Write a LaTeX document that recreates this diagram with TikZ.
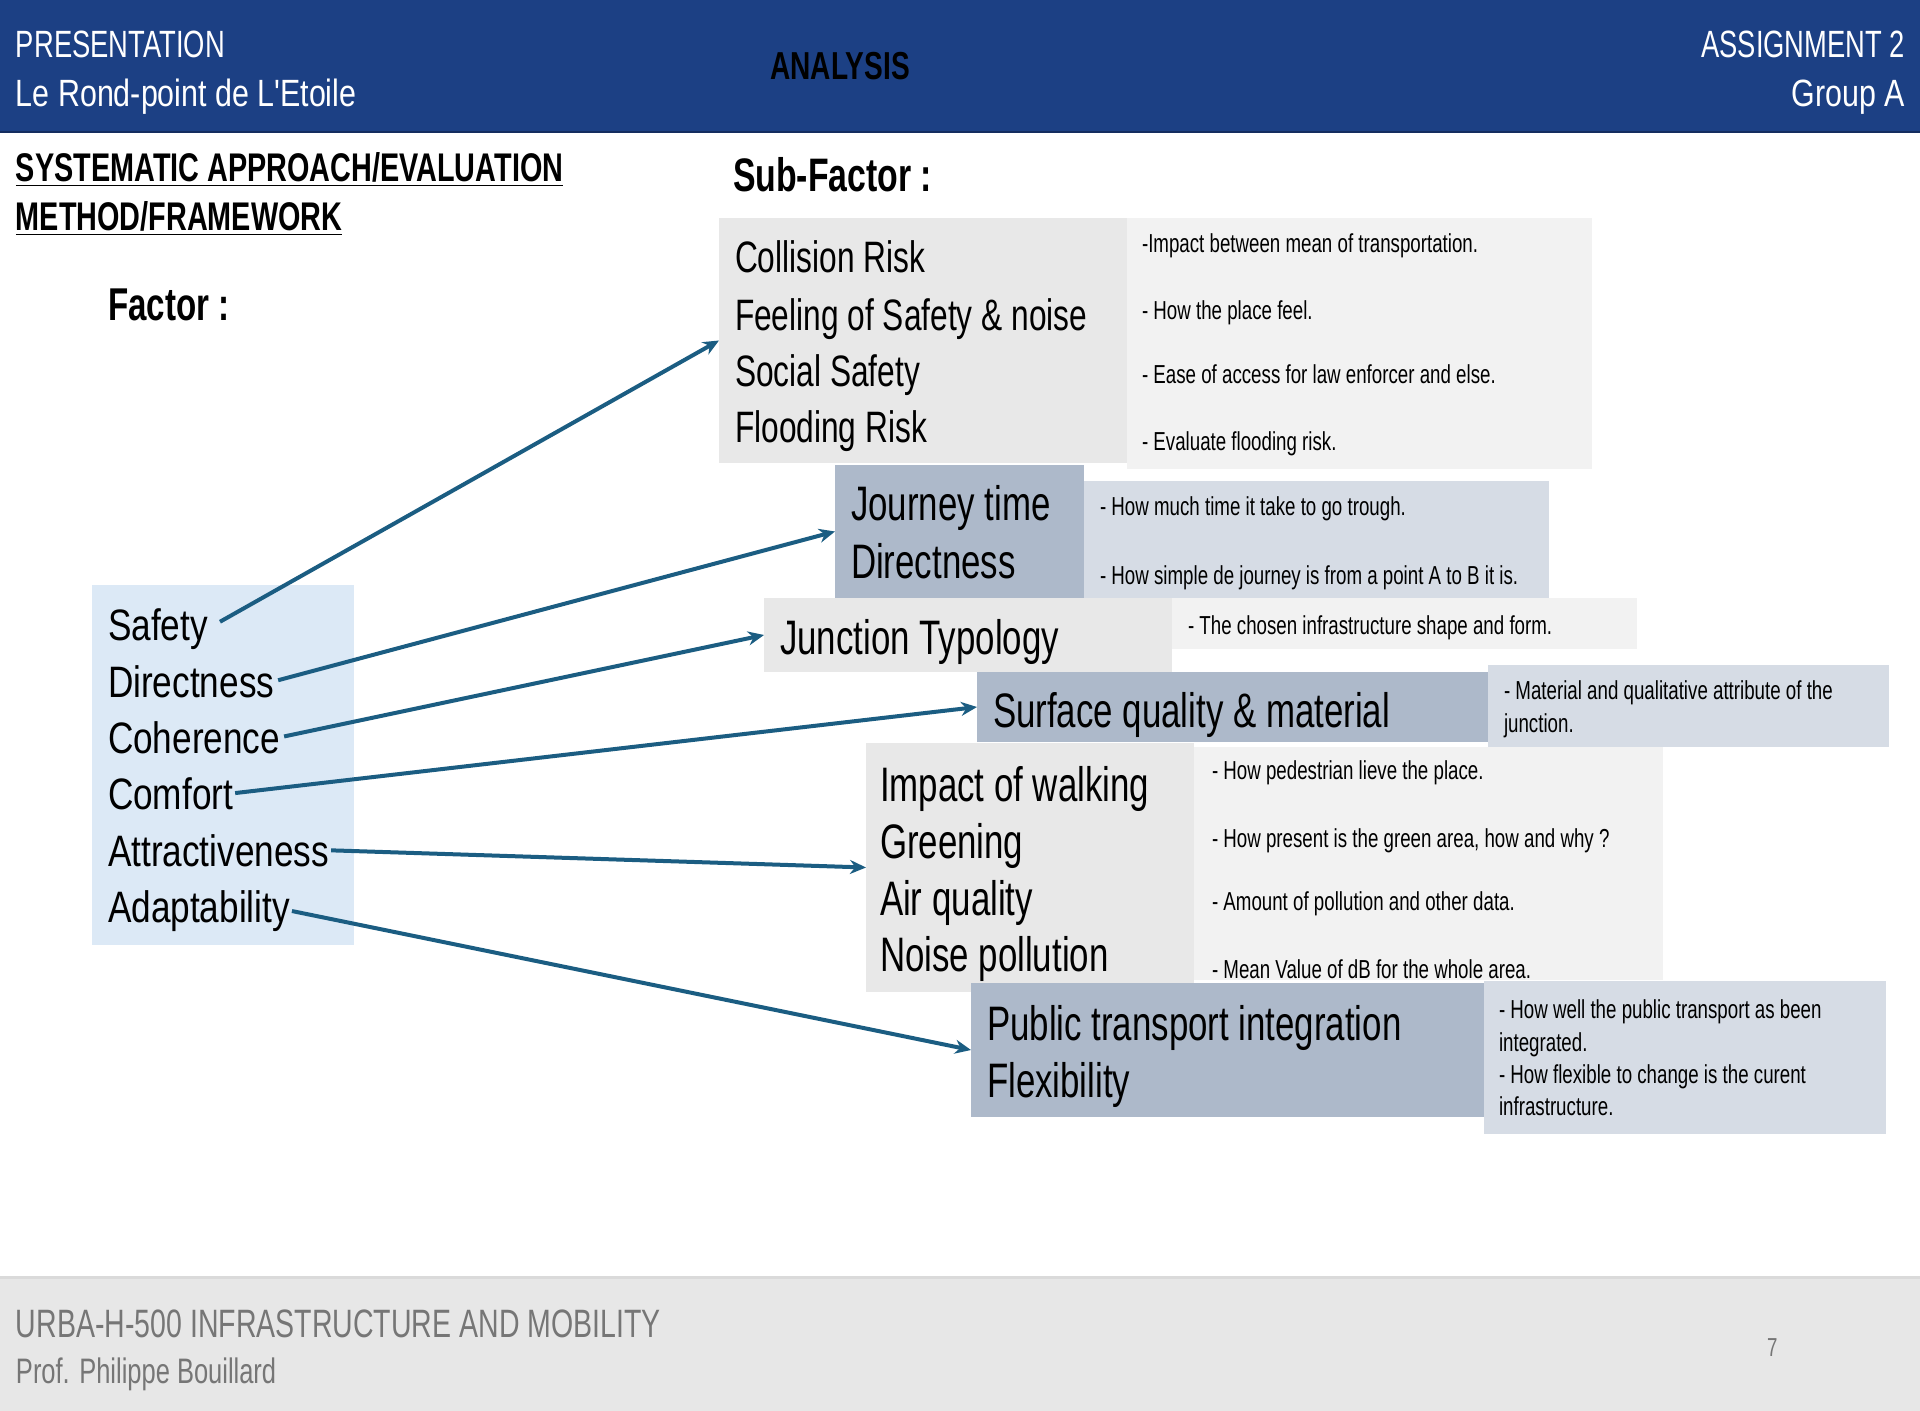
\documentclass[tikz,border=0pt]{standalone}
\usepackage{fontspec}
\setmainfont{Liberation Sans}[FakeStretch=0.72]
\newfontfamily\facfont{Liberation Sans}[FakeStretch=0.8]
\newfontfamily\midfont{Liberation Sans}[FakeStretch=0.8]
\usetikzlibrary{arrows.meta}
\definecolor{hdrblue}{RGB}{28,64,132}
\definecolor{hdrline}{RGB}{20,45,95}
\definecolor{facblue}{RGB}{220,233,246}
\definecolor{grayA}{RGB}{232,232,232}
\definecolor{grayB}{RGB}{242,242,242}
\definecolor{slateA}{RGB}{173,185,202}
\definecolor{slateB}{RGB}{214,220,229}
\definecolor{arrcol}{RGB}{27,93,130}
\definecolor{footbg}{RGB}{231,231,231}
\definecolor{footline}{RGB}{218,218,218}
\definecolor{foottxt}{RGB}{118,118,118}
\tikzset{
  box/.style={anchor=north west, inner sep=0, outer sep=0, draw=none},
  txt/.style={anchor=base west, inner sep=0, outer sep=0},
  hdrtxt/.style={txt, text=white, font=\fontsize{19}{22}\selectfont},
  headbold/.style={txt, font=\bfseries\fontsize{20}{24}\selectfont},
  sub/.style={txt, font=\fontsize{22}{26}\selectfont},
  subb/.style={txt, font=\fontsize{24.2}{28}\selectfont},
  desc/.style={txt, font=\fontsize{13}{15}\selectfont},
  fac/.style={txt, font=\facfont\fontsize{22}{26}\selectfont},
  foot/.style={txt, text=foottxt},
  arr/.style={draw=arrcol, line width=2pt, -{Stealth[length=8pt,width=7pt]}}
}
\begin{document}
\begin{tikzpicture}[x=0.5pt,y=-0.5pt]
\useasboundingbox (0,0) rectangle (1920,1411);
\fill[white] (0,0) rectangle (1920,1411);
% header
\node[box, fill=hdrblue, minimum width=960pt, minimum height=66pt] (hdr) at (0,0) {};
\draw[hdrline, line width=1pt] (hdr.south west) -- (hdr.south east);
\node[hdrtxt] (h1) at (16,58) {PRESENTATION};
\node[hdrtxt, font=\midfont\fontsize{19}{22}\selectfont] (h2) at (16,107) {Le Rond-point de L{\char39}Etoile};
\node[txt, anchor=base, font=\bfseries\fontsize{19.5}{23}\selectfont] (h3) at (840,80) {ANALYSIS};
\node[hdrtxt, anchor=base east] (h4) at (1905,58) {ASSIGNMENT 2};
\node[hdrtxt, anchor=base east, font=\midfont\fontsize{19}{22}\selectfont] (h5) at (1905,107) {Group A};
% footer
\node[box, fill=footbg, minimum width=960pt, minimum height=67pt] (ftr) at (0,1277) {};
\draw[footline, line width=1.5pt] (ftr.north west) -- (ftr.north east);
\node[foot, font=\fontsize{19.8}{23}\selectfont] (f1) at (16,1337) {URBA-H-500 INFRASTRUCTURE AND MOBILITY};
\node[foot, font=\fontsize{17.7}{21}\selectfont] (f2) at (16,1383) {Prof. Philippe Bouillard};
\node[txt, text=foottxt, font=\fontsize{13}{15}\selectfont] (f3) at (1767,1356) {7};
% headings
\node[headbold] (t1) at (16,182) {\underline{SYSTEMATIC APPROACH/EVALUATION}};
\node[headbold] (t2) at (16,231) {\underline{METHOD/FRAMEWORK}};
\node[txt, font=\bfseries\fontsize{23.5}{28}\selectfont] (t3) at (733,192) {Sub-Factor :};
\node[txt, font=\bfseries\fontsize{23}{28}\selectfont] (t4) at (108,321) {Factor :};
% factor box
\node[box, fill=facblue, minimum width=131pt, minimum height=180pt] (facbox) at (92,585) {};
\node[fac] (fSafety) at (108,640) {Safety};
\node[fac] (fDir) at (108,697) {Directness};
\node[fac] (fCoh) at (108,753) {Coherence};
\node[fac] (fCom) at (108,809) {Comfort};
\node[fac] (fAtt) at (108,866) {Attractiveness};
\node[fac] (fAda) at (108,922) {Adaptability};
% box 1
\node[box, fill=grayB, minimum width=232.5pt, minimum height=125.5pt] (b1d) at (1127,218) {};
\node[box, fill=grayA, minimum width=204pt, minimum height=122.5pt] (b1) at (719,218) {};
\node[sub] (s11) at (735,273) {Collision Risk};
\node[sub] (s12) at (735,331) {Feeling of Safety \& noise};
\node[sub] (s13) at (735,387) {Social Safety};
\node[sub] (s14) at (735,443) {Flooding Risk};
\node[desc] (d11) at (1142,253) {-Impact between mean of transportation.};
\node[desc] (d12) at (1142,320) {- How the place feel.};
\node[desc] (d13) at (1142,384) {- Ease of access for law enforcer and else.};
\node[desc] (d14) at (1142,451) {- Evaluate flooding risk.};
% box 2
\node[box, fill=slateB, minimum width=232.5pt, minimum height=58.5pt] (b2d) at (1084,481) {};
\node[box, fill=slateA, minimum width=124.5pt, minimum height=66.5pt] (b2) at (835,465) {};
\node[subb] (s21) at (851,520) {Journey time};
\node[subb] (s22) at (851,578) {Directness};
\node[desc] (d21) at (1100,516) {- How much time it take to go trough.};
\node[desc] (d22) at (1100,584) {- How simple de journey is from a point A to B it is.};
% box 3
\node[box, fill=grayB, minimum width=232.5pt, minimum height=25.5pt] (b3d) at (1172,598) {};
\node[box, fill=grayA, minimum width=204pt, minimum height=37pt] (b3) at (764,598) {};
\node[subb] (s31) at (780,654) {Junction Typology};
\node[desc] (d31) at (1188,634) {- The chosen infrastructure shape and form.};
% box 4
\node[box, fill=slateB, minimum width=200.5pt, minimum height=41pt] (b4d) at (1488,665) {};
\node[box, fill=slateA, minimum width=255.5pt, minimum height=35pt] (b4) at (977,672) {};
\node[subb] (s41) at (993,727) {Surface quality \& material};
\node[desc] (d41) at (1504,699) {- Material and qualitative attribute of the};
\node[desc] (d42) at (1504,732) {junction.};
% box 5
\node[box, fill=grayB, minimum width=234.5pt, minimum height=116.5pt] (b5d) at (1194,747) {};
\node[box, fill=grayA, minimum width=164pt, minimum height=124.5pt] (b5) at (866,743) {};
\node[subb] (s51) at (880,801) {Impact of walking};
\node[subb] (s52) at (880,858) {Greening};
\node[subb] (s53) at (880,915) {Air quality};
\node[subb] (s54) at (880,971) {Noise pollution};
\node[desc] (d51) at (1212,779) {- How pedestrian lieve the place.};
\node[desc] (d52) at (1212,847) {- How present is the green area, how and why ?};
\node[desc] (d53) at (1212,910) {- Amount of pollution and other data.};
\node[desc] (d54) at (1212,978) {- Mean Value of dB for the whole area.};
% box 6
\node[box, fill=slateB, minimum width=201pt, minimum height=76.5pt] (b6d) at (1484,981) {};
\node[box, fill=slateA, minimum width=256.5pt, minimum height=67pt] (b6) at (971,983) {};
\node[subb] (s61) at (987,1040) {Public transport integration};
\node[subb] (s62) at (987,1097) {Flexibility};
\node[desc] (d61) at (1499,1018) {- How well the public transport as been};
\node[desc] (d62) at (1499,1051) {integrated.};
\node[desc] (d63) at (1499,1083) {- How flexible to change is the curent};
\node[desc] (d64) at (1499,1115) {infrastructure.};
% arrows
\draw[arr, shorten <=7pt] (fSafety.east) -- (b1.west);
\draw[arr, shorten <=2pt] (fDir.east) -- (b2.west);
\draw[arr, shorten <=2pt] (fCoh.east) -- (b3.west);
\draw[arr, shorten <=1pt] (fCom.east) -- (b4.west);
\draw[arr, shorten <=1pt] (fAtt.east) -- (b5.west);
\draw[arr, shorten <=1pt] (fAda.east) -- (b6.west);
\end{tikzpicture}
\end{document}
